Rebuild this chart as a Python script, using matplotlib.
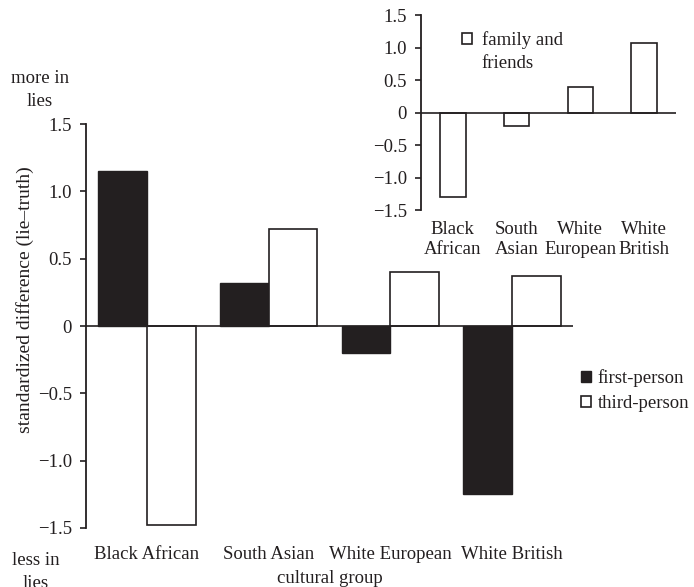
import matplotlib
matplotlib.use("Agg")
import matplotlib.pyplot as plt
import numpy as np
from matplotlib.patches import Patch

plt.rcParams['font.family'] = ['Liberation Serif', 'DejaVu Serif']

categories = ["Black African", "South Asian", "White European", "White British"]
first_person = [1.15, 0.32, -0.20, -1.25]
third_person = [-1.48, 0.72, 0.40, 0.37]
inset_categories = ["Black\nAfrican", "South\nAsian", "White\nEuropean", "White\nBritish"]
family_friends = [-1.30, -0.20, 0.40, 1.07]
yticks = [-1.5, -1.0, -0.5, 0, 0.5, 1.0, 1.5]
yticklabels = ["\u22121.5", "\u22121.0", "\u22120.5", "0", "0.5", "1.0", "1.5"]

INK = "#231f20"
FS = 13.5

fig = plt.figure(figsize=(6.94, 5.87), dpi=100)

# main axes
ax = fig.add_axes([86/694, 1-528/587, (573-86)/694, (528-124)/587])
x = np.arange(len(categories))
w = 0.4
ax.bar(x - w/2, first_person, w, color=INK, edgecolor=INK, linewidth=1.0, label="first-person")
ax.bar(x + w/2, third_person, w, color="white", edgecolor=INK, linewidth=1.2, label="third-person")
ax.axhline(0, color=INK, linewidth=1.2)
ax.set_xlim(-0.5, 3.5)
ax.set_ylim(-1.5, 1.5)
for s in ["top", "right", "bottom"]:
    ax.spines[s].set_visible(False)
ax.spines["left"].set_color(INK)
ax.spines["left"].set_linewidth(1.3)
ax.set_yticks(yticks)
ax.set_yticklabels(yticklabels, fontsize=FS, color=INK)
ax.tick_params(axis="y", direction="out", length=4, width=1.2, color=INK, pad=6)
ax.set_xticks(x)
ax.set_xticklabels(categories, fontsize=FS, color=INK)
ax.tick_params(axis="x", length=0, pad=13)
ax.set_xlabel("cultural group", fontsize=FS, color=INK, labelpad=5)

fig.text(25/694, 1-300/587, "standardized difference (lie\u2013truth)", rotation=90,
         ha="center", va="center", fontsize=14, color=INK)

fig.text(40/694, 1-90/587, "more in\nlies", ha="center", va="center", fontsize=FS, color=INK, linespacing=1.45)
fig.text(36/694, 1-572/587, "less in\nlies", ha="center", va="center", fontsize=FS, color=INK, linespacing=1.45)

handles = [Patch(facecolor=INK, edgecolor=INK, linewidth=1.0),
           Patch(facecolor="white", edgecolor=INK, linewidth=1.2)]
fig.legend(handles, ["first-person", "third-person"], loc="upper left",
           bbox_to_anchor=(581/694, 1-369/587), frameon=False, fontsize=FS,
           handlelength=0.55, handleheight=0.55, handletextpad=0.35,
           borderpad=0, borderaxespad=0, labelspacing=0.45, labelcolor=INK)

# inset axes
ai = fig.add_axes([421/694, 1-210/587, (676-421)/694, (210-15)/587])
xi = np.arange(len(inset_categories))
ai.bar(xi, family_friends, w, color="white", edgecolor=INK, linewidth=1.2)
ai.axhline(0, color=INK, linewidth=1.2)
ai.set_xlim(-0.5, 3.5)
ai.set_ylim(-1.5, 1.5)
for s in ["top", "right", "bottom"]:
    ai.spines[s].set_visible(False)
ai.spines["left"].set_color(INK)
ai.spines["left"].set_linewidth(1.3)
ai.set_yticks(yticks)
ai.set_yticklabels(yticklabels, fontsize=FS, color=INK)
ai.tick_params(axis="y", direction="out", length=4, width=1.2, color=INK, pad=6)
ai.set_xticks(xi)
ai.set_xticklabels(inset_categories, fontsize=FS, color=INK, linespacing=1.2)
ai.tick_params(axis="x", length=0, pad=8)
ai.patch.set_alpha(0)

ai.legend([Patch(facecolor="white", edgecolor=INK, linewidth=1.2)], ["family and"],
          loc="upper left", bbox_to_anchor=(462/694, 1-31/587), bbox_transform=fig.transFigure,
          frameon=False, fontsize=FS, handlelength=0.55, handleheight=0.55,
          handletextpad=0.5, borderpad=0, borderaxespad=0, labelcolor=INK)
fig.text(481/694, 1-64/587, "friends", ha="left", va="center", fontsize=FS, color=INK)

fig.savefig("out.png", dpi=100)
